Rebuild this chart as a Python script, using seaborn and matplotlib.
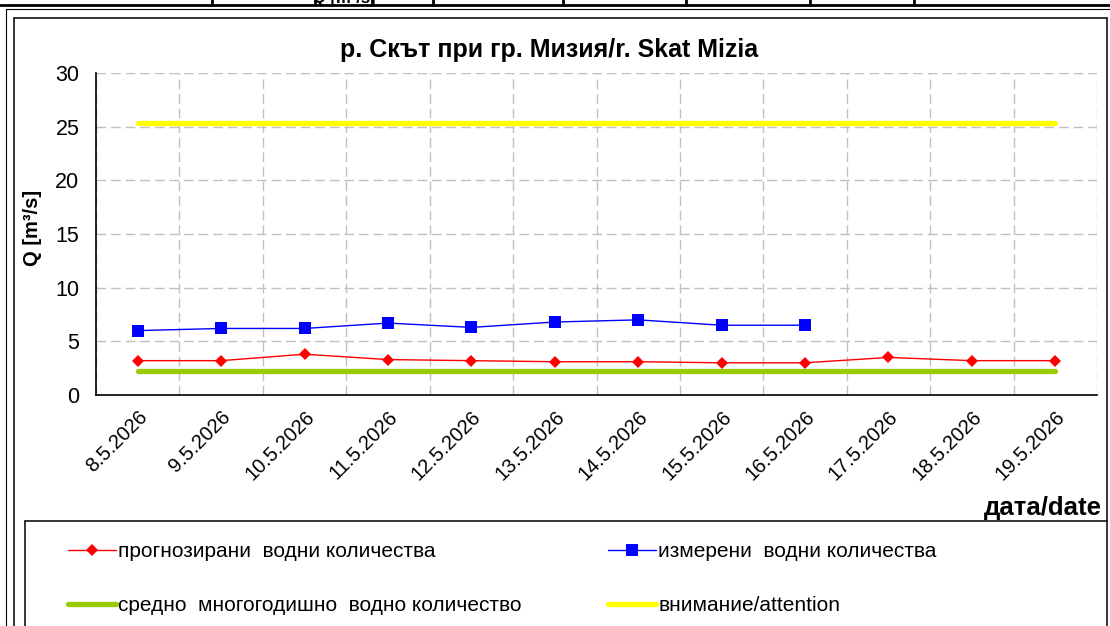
import numpy as np
import pandas as pd
import matplotlib
matplotlib.use("Agg")
import matplotlib.pyplot as plt
import seaborn as sns
from matplotlib.lines import Line2D

# ---------------- data ----------------
dates = ["8.5.2026", "9.5.2026", "10.5.2026", "11.5.2026", "12.5.2026", "13.5.2026",
         "14.5.2026", "15.5.2026", "16.5.2026", "17.5.2026", "18.5.2026", "19.5.2026"]
forecast = [3.2, 3.2, 3.8, 3.3, 3.2, 3.1, 3.1, 3.0, 3.0, 3.5, 3.2, 3.2]
measured = [6.0, 6.2, 6.2, 6.7, 6.3, 6.8, 7.0, 6.5, 6.5]
mean_annual = [2.25, 2.25, 2.25, 2.25, 2.25, 2.25, 2.25, 2.25, 2.25, 2.25, 2.25, 2.25]
attention = [25.35, 25.35, 25.35, 25.35, 25.35, 25.35, 25.35, 25.35, 25.35, 25.35, 25.35, 25.35]
y_ticks = [0, 5, 10, 15, 20, 25, 30]

title = "р. Скът при гр. Мизия/r. Skat Mizia"
y_label = "Q [m³/s]"
x_label = "дата/date"
lbl_forecast = "прогнозирани  водни количества"
lbl_measured = "измерени  водни количества"
lbl_mean = "средно  многогодишно  водно количество"
lbl_attention = "внимание/attention"
header_text = "Q [m³/s]"

# ---------------- style ----------------
sns.set_style("white")
plt.rcParams["font.family"] = ["Liberation Sans", "DejaVu Sans"]
plt.rcParams["text.color"] = "black"
plt.rcParams["xtick.color"] = "black"
plt.rcParams["ytick.color"] = "black"
plt.rcParams["xtick.labelcolor"] = "black"
plt.rcParams["ytick.labelcolor"] = "black"

W, H = 1110, 626
fig = plt.figure(figsize=(W / 100, H / 100), dpi=100)

def fx(px):
    return px / W

def fy(py):
    return 1 - py / H

ax = fig.add_axes([fx(96), fy(395), fx(1097) - fx(96), fy(73) - fy(395)])

pos = np.arange(len(dates))
df = pd.DataFrame({"pos": pos, "date": dates, "forecast": forecast,
                   "mean": mean_annual, "attention": attention})
dfm = pd.DataFrame({"pos": pos[:len(measured)], "measured": measured})

sns.lineplot(data=df, x="pos", y="mean", ax=ax, color="#99cc00", lw=3.8,
             solid_capstyle="round", sort=False, zorder=2)
sns.lineplot(data=df, x="pos", y="attention", ax=ax, color="#ffff00", lw=3.8,
             solid_capstyle="round", sort=False, zorder=2)
sns.lineplot(data=df, x="pos", y="forecast", ax=ax, color="#ff0000", lw=1.0,
             marker="D", markersize=6.5, markeredgewidth=0, sort=False, zorder=3)
sns.lineplot(data=dfm, x="pos", y="measured", ax=ax, color="#0000ff", lw=1.0,
             marker="s", markersize=8, markeredgewidth=0, sort=False, zorder=3)

ax.set_xlim(-0.5, len(dates) - 0.5)
ax.set_ylim(0, 30)
ax.set_yticks(y_ticks)
ax.set_xticks(pos)
ax.set_xticklabels(dates, rotation=45, ha="right", rotation_mode="anchor",
                   fontsize=14.5, color="black")
ax.set_xticks(np.arange(-0.5, len(dates), 1), minor=True)
ax.tick_params(axis="x", which="major", length=0, pad=9)
ax.tick_params(axis="x", which="minor", length=5, width=1, color="black", direction="out")
ax.tick_params(axis="y", which="major", length=5, width=1, color="black",
               direction="out", labelsize=15.5, pad=7, labelcolor="black")
ax.set_xlabel("")
ax.set_ylabel("")

grid_kw = dict(color="#c0c0c0", linewidth=1.0, linestyle=(0, (7, 3.5)))
ax.grid(False)
ax.xaxis.grid(True, which="minor", **grid_kw)
ax.yaxis.grid(True, which="major", **grid_kw)
ax.set_axisbelow(True)

for s in ["top", "right"]:
    ax.spines[s].set_visible(False)
for s in ["left", "bottom"]:
    ax.spines[s].set_visible(True)
    ax.spines[s].set_color("black")
    ax.spines[s].set_linewidth(1.2)

# texts
fig.text(fx(549), fy(50), title, ha="center", va="center", fontsize=18,
         fontweight="bold", color="black")
fig.text(fx(32), fy(228), y_label, ha="center", va="center", rotation=90,
         fontsize=14.5, fontweight="bold", color="black")
fig.text(fx(1102), fy(508), x_label, ha="right", va="center", fontsize=18.5,
         fontweight="bold", color="black")

# legends
h_forecast = Line2D([], [], color="#ff0000", lw=1.0, marker="D", markersize=6.5, markeredgewidth=0)
h_measured = Line2D([], [], color="#0000ff", lw=1.0, marker="s", markersize=8, markeredgewidth=0)
h_mean = Line2D([], [], color="#99cc00", lw=3.8, solid_capstyle="round")
h_att = Line2D([], [], color="#ffff00", lw=3.8, solid_capstyle="round")
leg_kw = dict(frameon=False, fontsize=15, handlelength=2.3, handletextpad=0.12,
              labelspacing=1.7, borderpad=0, borderaxespad=0, loc="upper left",
              labelcolor="black")
fig.legend([h_forecast, h_mean], [lbl_forecast, lbl_mean],
           bbox_to_anchor=(fx(68), fy(542)), **leg_kw)
fig.legend([h_measured, h_att], [lbl_measured, lbl_attention],
           bbox_to_anchor=(fx(608), fy(542)), **leg_kw)

# frames
def hline(y, x0, x1, lw, color="black"):
    fig.add_artist(Line2D([fx(x0), fx(x1)], [fy(y), fy(y)], lw=lw, color=color,
                          transform=fig.transFigure))

def vline(x, y0, y1, lw, color="black"):
    fig.add_artist(Line2D([fx(x), fx(x)], [fy(y0), fy(y1)], lw=lw, color=color,
                          transform=fig.transFigure))

# cut header table
fig.text(fx(344), fy(3), header_text, ha="center", va="baseline", fontsize=12,
         fontweight="bold", color="black")
hline(5, 0, W, 2.0)
for xs in [212, 315, 372, 433, 563, 686, 810, 914]:
    vline(xs, 0, 5, 2.0)
# outer frame
hline(8.5, 6, W, 0.8)
vline(6, 8.5, H, 0.8)
# inner chart frame
hline(18, 14, 1107, 1.1)
vline(14, 18, H, 1.1)
vline(1107, 18, H, 1.1)
# legend box
hline(521, 25, 1107, 1.1)
vline(25, 521, H, 1.1)

fig.savefig("out.png", dpi=100)
